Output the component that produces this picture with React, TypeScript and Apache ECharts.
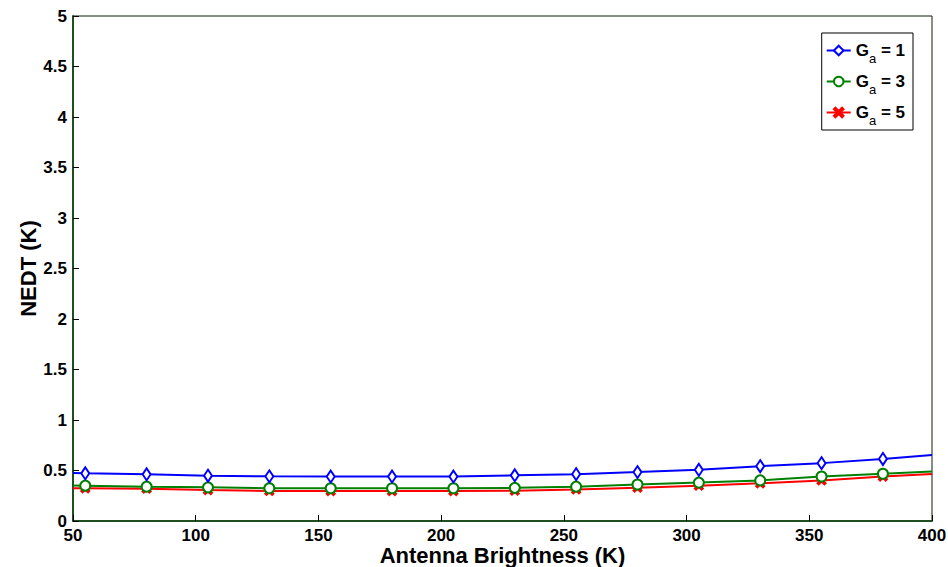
import React, { useEffect, useRef } from "react";
import * as echarts from "echarts";

const xValues = [50, 55, 80, 105, 130, 155, 180, 205, 230, 255, 280, 305, 330, 355, 380, 400];
const markerX = [55, 80, 105, 130, 155, 180, 205, 230, 255, 280, 305, 330, 355, 380];
const ga1 = [0.475, 0.472, 0.462, 0.449, 0.442, 0.44, 0.44, 0.44, 0.452, 0.464, 0.484, 0.507, 0.543, 0.573, 0.614, 0.654];
const ga3 = [0.352, 0.35, 0.34, 0.333, 0.325, 0.324, 0.324, 0.324, 0.328, 0.34, 0.362, 0.38, 0.402, 0.44, 0.468, 0.49];
const ga5 = [0.325, 0.324, 0.32, 0.307, 0.298, 0.297, 0.297, 0.297, 0.3, 0.313, 0.33, 0.35, 0.373, 0.402, 0.44, 0.466];
const seriesNames = ["Ga = 1", "Ga = 3", "Ga = 5"];
const gaLabels = ["1", "3", "5"];

const xMark = "path://M0,1.5L1.5,0L5,3.5L8.5,0L10,1.5L6.5,5L10,8.5L8.5,10L5,6.5L1.5,10L0,8.5L3.5,5Z";
const FONT = "Liberation Sans, Arial, sans-serif";

function buildData(vals: number[], sym: string, size: any) {
  return xValues.map((x, i) => ({
    value: [x, vals[i]],
    symbol: markerX.includes(x) ? sym : "none",
    symbolSize: size,
  }));
}

export default function App() {
  const ref = useRef<HTMLDivElement>(null);
  useEffect(() => {
    if (!ref.current) return;
    const chart = echarts.init(ref.current, null, { renderer: "svg" });
    const axisColor = "#1f4f1f";
    const labelStyle = { color: "#000", fontWeight: "bold" as const, fontSize: 17, lineHeight: 16, fontFamily: FONT };
    const nameStyle = { color: "#000", fontWeight: "bold" as const, fontSize: 22, lineHeight: 20, fontFamily: FONT };
    const specs = [
      { vals: ga1, color: "#0000ff", sym: "emptyDiamond", size: [8, 12] },
      { vals: ga3, color: "#008000", sym: "emptyCircle", size: 10 },
      { vals: ga5, color: "#ff0000", sym: xMark, size: 8 },
    ];
    chart.setOption({
      animation: false,
      backgroundColor: "#fff",
      grid: {
        left: 73, right: 16, top: 16, bottom: 46,
        show: true, borderColor: "#0a200a", borderWidth: 1,
        outerBoundsMode: "none",
      },
      xAxis: {
        type: "value",
        min: 50,
        max: 400,
        interval: 50,
        name: "Antenna Brightness (K)",
        nameLocation: "middle",
        nameGap: 24,
        nameMoveOverlap: false,
        nameTextStyle: nameStyle,
        axisLine: { show: true, lineStyle: { color: axisColor, width: 2 } },
        axisTick: { show: true, inside: true, length: 6, lineStyle: { color: "#000" } },
        axisLabel: { ...labelStyle, margin: 6 },
        splitLine: { show: false },
      },
      yAxis: {
        type: "value",
        min: 0,
        max: 5,
        interval: 0.5,
        name: "NEDT (K)",
        nameLocation: "middle",
        nameGap: 35,
        nameMoveOverlap: false,
        nameTextStyle: nameStyle,
        axisLine: { show: true, lineStyle: { color: axisColor, width: 2 } },
        axisTick: { show: true, inside: true, length: 6, lineStyle: { color: "#000" } },
        axisLabel: { ...labelStyle, margin: 6 },
        splitLine: { show: false },
      },
      legend: {
        orient: "vertical",
        right: 35,
        top: 33,
        backgroundColor: "#fff",
        borderColor: "#000",
        borderWidth: 1,
        borderRadius: 0,
        padding: [3, 8, 3, 4],
        itemGap: 2,
        itemWidth: 24,
        itemHeight: 12,
        data: seriesNames,
        formatter: (name: string) => {
          const idx = seriesNames.indexOf(name);
          return "{b|G}{s|a}{b| = " + gaLabels[idx] + "}";
        },
        textStyle: {
          color: "#000",
          rich: {
            b: { fontSize: 17, fontWeight: "bold", fontFamily: FONT, color: "#000", lineHeight: 24 },
            s: { fontSize: 13, fontFamily: FONT, color: "#000", padding: [16, 0, 0, 0], lineHeight: 24 },
          },
        },
      },
      series: specs.map((s, i) => ({
        name: seriesNames[i],
        type: "line",
        data: buildData(s.vals, s.sym, s.size),
        symbol: s.sym,
        symbolSize: s.size,
        showAllSymbol: true,
        color: s.color,
        lineStyle: { color: s.color, width: 2 },
        itemStyle: { color: s.color, borderColor: s.color, borderWidth: 2 },
        z: 3 - i,
      })),
    });
    return () => chart.dispose();
  }, []);
  return <div ref={ref} style={{ width: 948, height: 567, position: "absolute", left: 0, top: 0 }} />;
}
